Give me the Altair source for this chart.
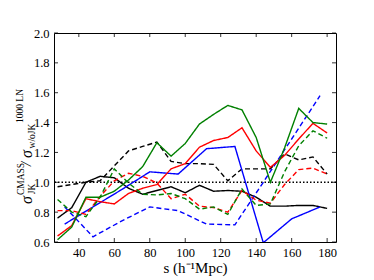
import altair as alt
import pandas as pd

# ---- data ----
s_fine = [28, 36, 44, 52, 60, 68, 76, 84, 92, 100, 108, 116, 124, 132, 140, 148, 156, 164, 172, 180]
s_coarse = [32, 48, 64, 80, 96, 112, 128, 144, 160, 176]

black_solid = [0.76, 0.83, 1.00, 1.04, 1.03, 0.96, 0.92, 0.945, 0.97, 0.93, 0.98, 0.94, 0.945, 0.94, 0.90, 0.84, 0.84, 0.845, 0.845, 0.825]
black_dashed = [0.97, 0.985, 1.00, 1.01, 1.11, 1.21, 1.24, 1.27, 1.14, 1.125, 1.125, 1.12, 1.01, 1.09, 1.09, 1.09, 1.19, 1.15, 1.17, 1.055]
red_solid = [0.64, 0.71, 0.89, 0.87, 0.855, 0.925, 0.96, 0.985, 1.09, 1.125, 1.235, 1.28, 1.30, 1.365, 1.21, 1.10, 1.18, 1.29, 1.395, 1.33]
red_dashed = [0.81, 0.81, 0.785, 0.905, 1.01, 1.06, 1.04, 0.995, 0.89, 0.92, 0.84, 0.83, 0.80, 0.945, 0.88, 0.86, 0.985, 1.085, 1.095, 1.055]
green_solid = [0.615, 0.70, 0.90, 0.90, 0.94, 1.015, 1.105, 1.265, 1.175, 1.26, 1.39, 1.455, 1.515, 1.485, 1.30, 1.0, 1.23, 1.495, 1.40, 1.39]
green_dashed = [0.885, 0.80, 0.77, 0.90, 1.09, 0.995, 0.92, 0.915, 0.925, 0.89, 0.82, 0.835, 0.785, 0.955, 0.845, 0.855, 1.07, 1.245, 1.345, 1.295]
blue_solid = [0.72, 0.835, 0.95, 1.07, 1.055, 1.225, 1.24, 0.595, 0.755, 0.835]
blue_dashed = [0.835, 0.635, 0.74, 0.835, 0.81, 0.72, 0.715, 1.0, 1.29, 1.58]

x_ticks = [40, 60, 80, 100, 120, 140, 160, 180]
y_ticks = [0.6, 0.8, 1.0, 1.2, 1.4, 1.6, 1.8, 2.0]
x_domain = [26, 185]
y_domain = [0.6, 2.0]
reference_level = [1.0]

series = [
    ("black_dashed", s_fine, black_dashed),
    ("black_solid", s_fine, black_solid),
    ("blue_dashed", s_coarse, blue_dashed),
    ("blue_solid", s_coarse, blue_solid),
    ("red_dashed", s_fine, red_dashed),
    ("red_solid", s_fine, red_solid),
    ("green_dashed", s_fine, green_dashed),
    ("green_solid", s_fine, green_solid),
]
names = [n for n, _, _ in series]
color_of = {"black": "#000000", "red": "#ff0000", "green": "#008000", "blue": "#0000ff"}
colors = [color_of[n.split("_")[0]] for n in names]
dashes = [[5, 3] if n.endswith("dashed") else [1, 0] for n in names]

rows = []
for name, xs, vs in series:
    for x, v in zip(xs, vs):
        rows.append({"s": x, "v": v, "series": name})
df = pd.DataFrame(rows)

W, H = 282, 209
FONT = "Liberation Serif"

xscale = alt.Scale(domain=x_domain, nice=False, zero=False)
yscale = alt.Scale(domain=y_domain, nice=False, zero=False)

x_axis = alt.Axis(
    values=x_ticks, tickSize=0, domain=False, grid=False,
    labelFont=FONT, labelFontSize=12.5, labelColor="black", labelPadding=4,
    title="s (h⁻¹Mpc)", titleFont=FONT, titleFontSize=15,
    titleFontWeight="normal", titleColor="black", titlePadding=2)
y_axis = alt.Axis(
    values=y_ticks, format=".1f", tickSize=0, domain=False, grid=False,
    labelFont=FONT, labelFontSize=12.5, labelColor="black", labelPadding=5,
    title="")

lines = alt.Chart(df).mark_line(strokeWidth=1.4, clip=True).encode(
    x=alt.X("s:Q", scale=xscale, axis=x_axis),
    y=alt.Y("v:Q", scale=yscale, axis=y_axis),
    color=alt.Color("series:N", scale=alt.Scale(domain=names, range=colors), legend=None),
    strokeDash=alt.StrokeDash("series:N", scale=alt.Scale(domain=names, range=dashes), legend=None),
    detail="series:N",
)

ref = alt.Chart(pd.DataFrame({"y": reference_level})).mark_rule(
    color="black", strokeWidth=1.5, strokeDash=[1.5, 2]
).encode(y=alt.Y("y:Q", scale=yscale, axis=y_axis))

xt = pd.DataFrame({"t": x_ticks})
yt = pd.DataFrame({"t": y_ticks})
tick_style = dict(color="black", strokeWidth=0.8)
ticks = [
    alt.Chart(xt).mark_rule(**tick_style).encode(
        x=alt.X("t:Q", scale=xscale, axis=x_axis), y=alt.value(H), y2=alt.value(H - 4)),
    alt.Chart(xt).mark_rule(**tick_style).encode(
        x=alt.X("t:Q", scale=xscale, axis=x_axis), y=alt.value(0), y2=alt.value(4)),
    alt.Chart(yt).mark_rule(**tick_style).encode(
        y=alt.Y("t:Q", scale=yscale, axis=y_axis), x=alt.value(0), x2=alt.value(4)),
    alt.Chart(yt).mark_rule(**tick_style).encode(
        y=alt.Y("t:Q", scale=yscale, axis=y_axis), x=alt.value(W), x2=alt.value(W - 4)),
]

# y-axis title built from pieces (sub/superscripts)
one = pd.DataFrame({"k": [0]})
def piece(txt, x, y, size, italic=False):
    return alt.Chart(one).mark_text(
        font=FONT, fontSize=size, fontStyle="italic" if italic else "normal",
        angle=270, align="center", baseline="middle", color="black"
    ).encode(text=alt.value(txt), x=alt.value(x), y=alt.value(y))

title_pieces = [
    piece("σ", -27, 167, 16, True),
    piece("JK", -22, 156, 9.5),
    piece("CMASS", -33, 146, 9.5),
    piece("/", -28, 131, 15, True),
    piece("σ", -27, 121, 16, True),
    piece("w/oJK", -22, 103, 9.5),
    piece("1000 LN", -34, 73, 9.5),
]

chart = alt.layer(ref, lines, *ticks, *title_pieces).properties(
    width=W, height=H,
    padding={"left": 46, "top": 25, "right": 30, "bottom": 36},
    autosize=alt.AutoSizeParams(type="none"),
).configure_view(stroke="black", strokeWidth=1)

chart.save("out.html", embed_options={"renderer": "svg", "actions": False})
